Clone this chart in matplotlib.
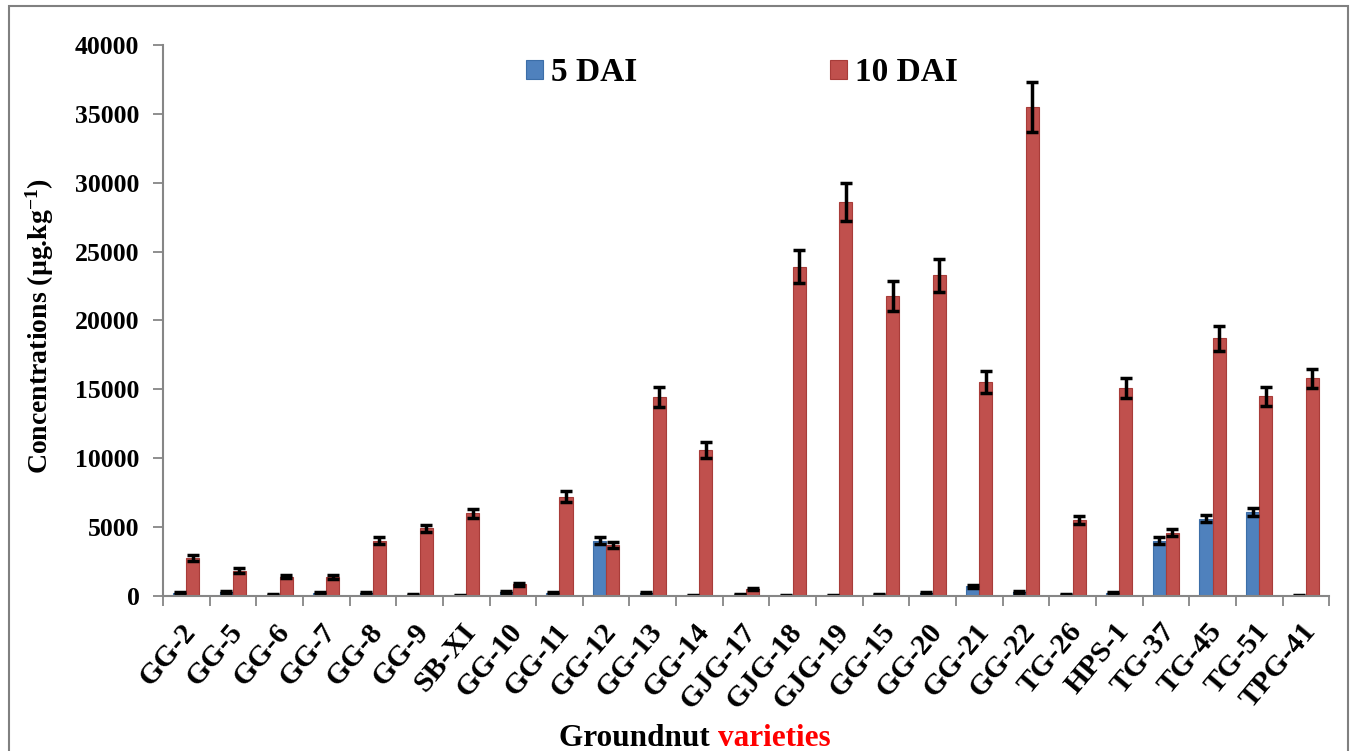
import numpy as np
import matplotlib.pyplot as plt
from matplotlib.patches import Rectangle

plt.rcParams['font.family'] = ['Liberation Serif', 'DejaVu Serif']
plt.rcParams['font.weight'] = 'bold'
plt.rcParams['mathtext.fontset'] = 'custom'
plt.rcParams['mathtext.rm'] = 'Liberation Serif:bold'
plt.rcParams['mathtext.bf'] = 'Liberation Serif:bold'
plt.rcParams['mathtext.default'] = 'bf'

varieties = ['GG-2', 'GG-5', 'GG-6', 'GG-7', 'GG-8', 'GG-9', 'SB-XI', 'GG-10', 'GG-11',
             'GG-12', 'GG-13', 'GG-14', 'GJG-17', 'GJG-18', 'GJG-19', 'GG-15', 'GG-20',
             'GG-21', 'GG-22', 'TG-26', 'HPS-1', 'TG-37', 'TG-45', 'TG-51', 'TPG-41']
dai5 = [200, 300, 100, 200, 200, 100, 50, 300, 200, 4000, 200, 50, 100, 50, 50,
        100, 200, 700, 300, 100, 200, 4000, 5600, 6100, 50]
dai5_err = [80, 80, 50, 80, 80, 50, 30, 80, 80, 250, 80, 30, 50, 30, 30,
            50, 80, 100, 80, 50, 80, 250, 250, 300, 30]
dai10 = [2750, 1850, 1400, 1350, 4000, 4900, 6000, 850, 7200, 3700, 14450, 10600,
         500, 23900, 28600, 21800, 23300, 15500, 35500, 5500, 15100, 4600, 18700,
         14500, 15800]
dai10_err = [200, 150, 100, 150, 250, 250, 350, 120, 400, 200, 700, 600, 100, 1200,
             1400, 1100, 1200, 800, 1800, 300, 700, 250, 900, 700, 700]

fig = plt.figure(figsize=(13.56, 7.51), dpi=100)
ax = fig.add_axes([0.1202, 0.2064, 0.860, 0.7337])

x = np.arange(len(varieties)) + 0.5
w = 0.28
ekw = dict(ecolor='black', elinewidth=2.5, capsize=4.5, capthick=2.5)
ax.bar(x - w / 2, dai5, w, yerr=dai5_err, color='#4F81BD', edgecolor='#3C6EA8',
       linewidth=0.8, error_kw=ekw, label='5 DAI', zorder=2)
ax.bar(x + w / 2, dai10, w, yerr=dai10_err, color='#C0504D', edgecolor='#A83C39',
       linewidth=0.8, error_kw=ekw, label='10 DAI', zorder=2)

ax.set_xlim(0, len(varieties))
ax.set_ylim(0, 40000)
ax.set_yticks(np.arange(0, 40001, 5000))
# label anchors sit a little left of the bar pair (invisible major ticks)
ax.set_xticks(x - 0.12)
ax.set_xticklabels(varieties, rotation=50, ha='right', rotation_mode='anchor',
                   fontsize=21.5, fontweight='bold')
ax.set_xticks(np.arange(0, len(varieties) + 1), minor=True)
ax.tick_params(axis='x', which='major', length=0, pad=16)
ax.tick_params(axis='x', which='minor', length=7, width=1.3, color='#868686', direction='out')
ax.tick_params(axis='y', length=7, width=1.3, color='#868686', labelsize=18.5, pad=10)
for lab in ax.get_yticklabels():
    lab.set_fontweight('bold')

for s in ['top', 'right']:
    ax.spines[s].set_visible(False)
for s in ['left', 'bottom']:
    ax.spines[s].set_color('#868686')
    ax.spines[s].set_linewidth(1.5)

ax.set_ylabel('Concentrations (µg.kg$^{-1}$)', fontsize=20, fontweight='bold')
ax.yaxis.set_label_coords(-0.092, 0.49)

fig.text(718 / 1356, 0.017, 'Groundnut ', ha='right', va='center', fontsize=22.5,
         fontweight='bold', color='black')
fig.text(718 / 1356, 0.017, 'varieties', ha='left', va='center', fontsize=22.5,
         fontweight='bold', color='#FF0000')

fig.legend(loc='center', bbox_to_anchor=(0.547, 0.903), ncol=2, frameon=False,
           prop={'size': 24, 'weight': 'bold'}, handlelength=0.52, handleheight=0.52,
           handletextpad=0.22, columnspacing=5.8)

fig.patches.append(Rectangle((9 / 1356, -0.02), 1339 / 1356, 1.02 - 6 / 751,
                             transform=fig.transFigure, fill=False,
                             edgecolor='#808080', linewidth=1.5, zorder=0))

fig.savefig('out.png', dpi=100)
